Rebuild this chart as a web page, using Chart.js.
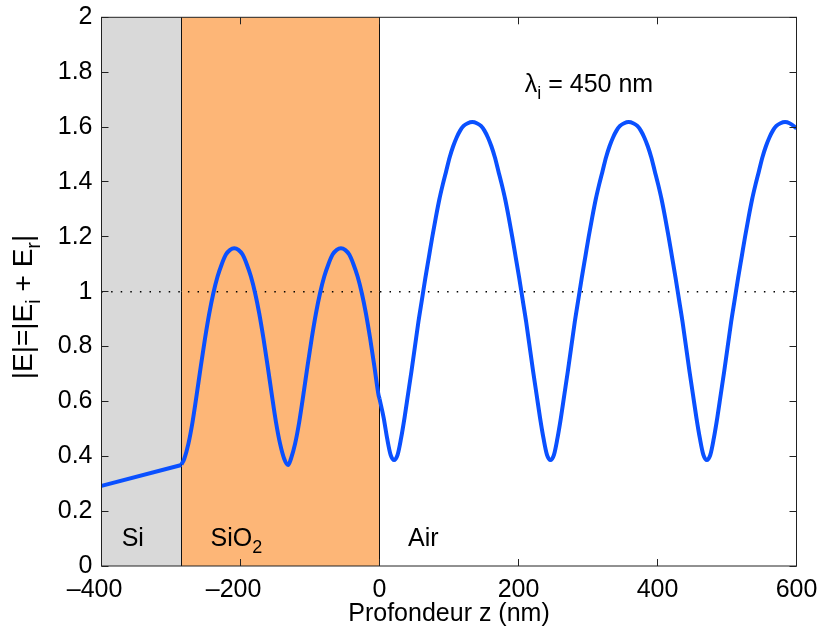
<!DOCTYPE html>
<html>
<head>
<meta charset="utf-8">
<script src="https://cdn.jsdelivr.net/npm/chart.js@4.4.1/dist/chart.umd.min.js"></script>
<style>
  html, body { margin: 0; padding: 0; background: #fff; }
  #wrap { width: 821px; height: 630px; }
</style>
</head>
<body>
<div id="wrap"><canvas id="c" width="821" height="630"></canvas></div>
<script>
// ---- data ----
const xTicks = [-400, -200, 0, 200, 400, 600];
const yTicks = [0, 0.2, 0.4, 0.6, 0.8, 1, 1.2, 1.4, 1.6, 1.8, 2];

const layerNames = ['Si', 'SiO2', 'Air'];
const layerBounds = [-400, -285, 0, 600];
const layerColors = ['#d9d9d9', '#fdb677', '#ffffff'];

const refX = [-400, 600];
const refLevel = [1, 1];

// field modulus in the silicon substrate
const siX = [-400, -285];
const siY = [0.292, 0.368];

// field modulus in the SiO2 layer
const oxideX = [
  -285, -281, -275, -269, -263, -257, -251, -245, -239, -233, -227, -221, -215, -209,
  -203, -197, -191, -185, -179, -173, -167, -161, -155, -149, -143, -137, -131.5,
  -127.5, -121.5, -115.5, -109.5, -103.5, -97.5, -91.5, -85.5, -79.5, -73.5, -67.5, -61.5, -55.5,
  -49.5, -43.5, -37.5, -31.5, -25.5, -19.5, -13.5, -7.5, -1.5
];
const oxideY = [
  0.370, 0.39, 0.445, 0.525, 0.625, 0.73, 0.83, 0.92, 0.995, 1.055, 1.10, 1.135, 1.152, 1.158,
  1.152, 1.135, 1.10, 1.055, 0.995, 0.92, 0.83, 0.73, 0.625, 0.525, 0.445, 0.39, 0.368,
  0.39, 0.445, 0.525, 0.625, 0.73, 0.83, 0.92, 0.995, 1.055, 1.10, 1.135, 1.152, 1.158,
  1.152, 1.135, 1.10, 1.055, 0.995, 0.92, 0.83, 0.73, 0.625
];

// field modulus in air
const airX = [
  0, 6, 11, 16, 21,
  26, 31, 36, 41, 46, 51, 56, 61, 66, 71, 76, 81, 86, 91, 96, 101, 106, 111, 116, 121, 127, 133.5,
  140, 146, 151, 156, 161, 166, 171, 176, 181, 186, 191, 196, 201, 206, 211, 216, 221, 226, 231, 236, 241, 246,
  251, 256, 261, 266, 271, 276, 281, 286, 291, 296, 301, 306, 311, 316, 321, 326, 331, 336, 341, 346, 352, 358.5,
  365, 371, 376, 381, 386, 391, 396, 401, 406, 411, 416, 421, 426, 431, 436, 441, 446, 451, 456, 461, 466, 471,
  476, 481, 486, 491, 496, 501, 506, 511, 516, 521, 526, 531, 536, 541, 546, 551, 556, 561, 566, 571, 577, 583.5,
  590, 596, 600
];
const airY = [
  0.61, 0.54, 0.465, 0.405, 0.386,
  0.405, 0.465, 0.54, 0.625, 0.71, 0.80, 0.89, 0.97, 1.05, 1.125, 1.20, 1.27, 1.335, 1.39, 1.44, 1.49, 1.53, 1.562, 1.587, 1.604, 1.614, 1.618,
  1.614, 1.604, 1.587, 1.562, 1.53, 1.49, 1.44, 1.39, 1.335, 1.27, 1.20, 1.125, 1.05, 0.97, 0.89, 0.80, 0.71, 0.625, 0.54, 0.465, 0.405, 0.386,
  0.405, 0.465, 0.54, 0.625, 0.71, 0.80, 0.89, 0.97, 1.05, 1.125, 1.20, 1.27, 1.335, 1.39, 1.44, 1.49, 1.53, 1.562, 1.587, 1.604, 1.614, 1.618,
  1.614, 1.604, 1.587, 1.562, 1.53, 1.49, 1.44, 1.39, 1.335, 1.27, 1.20, 1.125, 1.05, 0.97, 0.89, 0.80, 0.71, 0.625, 0.54, 0.465, 0.405, 0.386,
  0.405, 0.465, 0.54, 0.625, 0.71, 0.80, 0.89, 0.97, 1.05, 1.125, 1.20, 1.27, 1.335, 1.39, 1.44, 1.49, 1.53, 1.562, 1.587, 1.604, 1.614, 1.618,
  1.614, 1.604, 1.594
];

const FONT = '"Liberation Sans", Arial, Helvetica, sans-serif';
const TICK_PX = 25;
const LABEL_PX = 25;
const YTITLE_PX = 28;

const pts = (xs, ys) => xs.map((x, i) => ({ x: x, y: ys[i] }));

function richWidth(ctx, parts, size) {
  let w = 0;
  for (const p of parts) {
    ctx.font = (p.sub ? Math.round(size * 0.7) : size) + 'px ' + FONT;
    w += ctx.measureText(p.t).width;
  }
  return w;
}
function drawRich(ctx, parts, x, y, size) {
  let cx = x;
  for (const p of parts) {
    const s = p.sub ? Math.round(size * 0.7) : size;
    ctx.font = s + 'px ' + FONT;
    ctx.fillText(p.t, cx, p.sub ? y + size * 0.3 : y);
    cx += ctx.measureText(p.t).width;
  }
}

const decor = {
  id: 'decor',
  beforeDatasetsDraw(chart) {
    const { ctx, chartArea: a, scales: { x } } = chart;
    ctx.save();
    for (let i = 0; i < layerNames.length; i++) {
      const x0 = x.getPixelForValue(layerBounds[i]);
      const x1 = x.getPixelForValue(layerBounds[i + 1]);
      ctx.fillStyle = layerColors[i];
      ctx.fillRect(x0, a.top, x1 - x0, a.bottom - a.top);
    }
    ctx.strokeStyle = '#111';
    ctx.lineWidth = 1;
    for (let i = 1; i < layerBounds.length - 1; i++) {
      const px = Math.round(x.getPixelForValue(layerBounds[i]) - 0.5) + 0.5;
      ctx.beginPath();
      ctx.moveTo(px, a.top);
      ctx.lineTo(px, a.bottom);
      ctx.stroke();
    }
    ctx.restore();
  },
  afterDraw(chart) {
    const { ctx, chartArea: a, scales: { x, y } } = chart;
    ctx.save();
    // frame
    ctx.strokeStyle = '#222';
    ctx.lineWidth = 1;
    ctx.strokeRect(a.left, a.top, a.right - a.left, a.bottom - a.top);
    // inward ticks on all four sides
    const TL = 7;
    ctx.beginPath();
    for (const v of xTicks) {
      const px = Math.round(x.getPixelForValue(v) - 0.5) + 0.5;
      ctx.moveTo(px, a.bottom); ctx.lineTo(px, a.bottom - TL);
      ctx.moveTo(px, a.top); ctx.lineTo(px, a.top + TL);
    }
    for (const v of yTicks) {
      const py = Math.round(y.getPixelForValue(v) - 0.5) + 0.5;
      ctx.moveTo(a.left, py); ctx.lineTo(a.left + TL, py);
      ctx.moveTo(a.right, py); ctx.lineTo(a.right - TL, py);
    }
    ctx.stroke();

    ctx.fillStyle = '#000';
    ctx.textBaseline = 'alphabetic';

    // x tick labels: digits centred on the tick, minus sign hanging to the left
    ctx.font = TICK_PX + 'px ' + FONT;
    for (const v of xTicks) {
      const px = x.getPixelForValue(v);
      const digits = String(Math.abs(v));
      ctx.textAlign = 'center';
      ctx.fillText(digits, px, 597);
      if (v < 0) {
        const w = ctx.measureText(digits).width;
        ctx.textAlign = 'right';
        ctx.fillText('\u2013', px - w / 2, 597);
      }
    }

    ctx.textAlign = 'left';
    // layer labels
    const baseY = y.getPixelForValue(0.073);
    drawRich(ctx, [{ t: 'Si' }], x.getPixelForValue(-371), baseY, LABEL_PX);
    drawRich(ctx, [{ t: 'SiO' }, { t: '2', sub: true }], x.getPixelForValue(-243), baseY, LABEL_PX);
    drawRich(ctx, [{ t: 'Air' }], x.getPixelForValue(41), baseY, LABEL_PX);
    // wavelength label
    drawRich(ctx, [{ t: 'λ' }, { t: 'i', sub: true }, { t: ' = 450 nm' }],
      x.getPixelForValue(209), y.getPixelForValue(1.729), LABEL_PX);

    // x axis title
    const xt = [{ t: 'Profondeur z (nm)' }];
    const xw = richWidth(ctx, xt, LABEL_PX);
    drawRich(ctx, xt, (a.left + a.right) / 2 - xw / 2, 621, LABEL_PX);

    // y axis title (rotated)
    const yt = [{ t: '|E|=|E' }, { t: 'i', sub: true }, { t: ' + E' }, { t: 'r', sub: true }, { t: '|' }];
    const yw = richWidth(ctx, yt, YTITLE_PX);
    ctx.translate(32, 307);
    ctx.rotate(-Math.PI / 2);
    drawRich(ctx, yt, -yw / 2, 0, YTITLE_PX);
    ctx.restore();
  }
};

const blue = '#0a50ff';

new Chart(document.getElementById('c'), {
  type: 'line',
  data: {
    datasets: [
      {
        label: 'ref',
        data: pts(refX, refLevel),
        borderColor: '#000',
        borderWidth: 1.5,
        borderDash: [1.5, 8.1],
        pointRadius: 0,
        tension: 0,
        order: 3
      },
      {
        label: 'Si',
        data: pts(siX, siY),
        borderColor: blue,
        borderWidth: 4,
        pointRadius: 0,
        tension: 0,
        order: 2
      },
      {
        label: 'SiO2',
        data: pts(oxideX, oxideY).concat(pts(airX.slice(0, 1), airY.slice(0, 1))),
        borderColor: blue,
        borderWidth: 4,
        pointRadius: 0,
        cubicInterpolationMode: 'monotone',
        borderJoinStyle: 'round',
        order: 1
      },
      {
        label: 'Air',
        data: pts(airX, airY),
        borderColor: blue,
        borderWidth: 4,
        pointRadius: 0,
        cubicInterpolationMode: 'monotone',
        borderJoinStyle: 'round',
        order: 0
      }
    ]
  },
  options: {
    responsive: false,
    animation: false,
    devicePixelRatio: 1,
    layout: { padding: { left: 0, right: 24.5, top: 17.3, bottom: 0 } },
    plugins: { legend: { display: false }, tooltip: { enabled: false } },
    scales: {
      x: {
        type: 'linear',
        min: -400, max: 600,
        grid: { display: false, drawTicks: false },
        border: { display: false },
        afterBuildTicks: s => { s.ticks = xTicks.map(v => ({ value: v })); },
        afterFit: s => { s.height = 64; s.paddingLeft = 0; s.paddingRight = 0; },
        ticks: { display: false }
      },
      y: {
        type: 'linear',
        min: 0, max: 2,
        grid: { display: false, drawTicks: false },
        border: { display: false },
        afterBuildTicks: s => { s.ticks = yTicks.map(v => ({ value: v })); },
        afterFit: s => { s.width = 101.5; s.paddingTop = 0; s.paddingBottom = 0; },
        ticks: {
          color: '#000',
          padding: 9,
          font: { family: FONT, size: TICK_PX },
          callback: v => String(+(+v).toFixed(1))
        }
      }
    }
  },
  plugins: [decor]
});
</script>
</body>
</html>
